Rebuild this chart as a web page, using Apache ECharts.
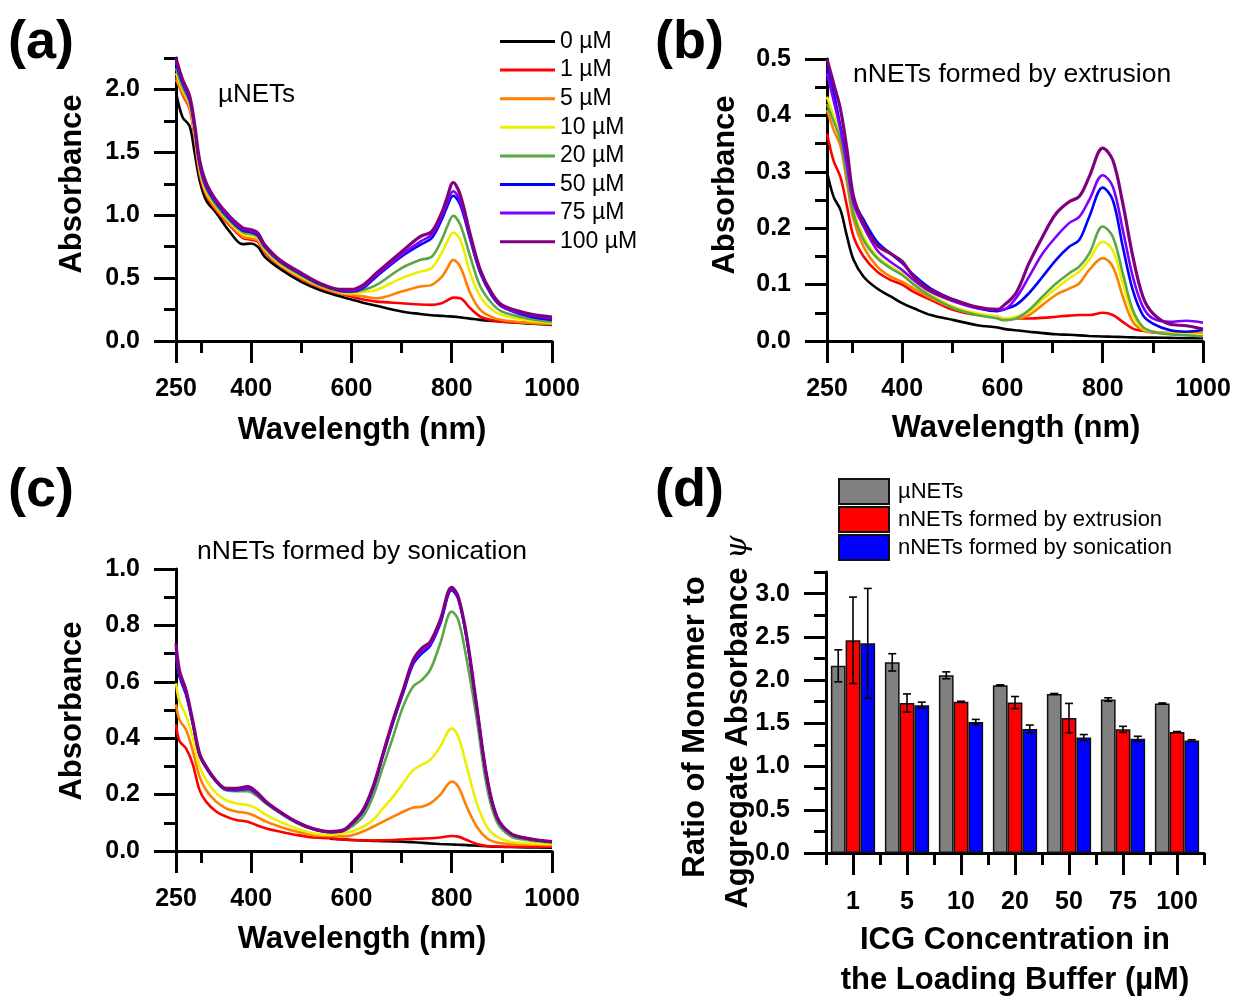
<!DOCTYPE html>
<html><head><meta charset="utf-8">
<script src="https://cdn.jsdelivr.net/npm/echarts@6/dist/echarts.min.js"></script>
<style>html,body{margin:0;padding:0;background:#fff}#c{width:1246px;height:998px}</style>
</head><body><div id="c"></div>
<script>
// ---------- data ----------
const concLabels = ['0 µM','1 µM','5 µM','10 µM','20 µM','50 µM','75 µM','100 µM'];
const lineColors = ['#000000','#ff0000','#ff8000','#eeee00','#5aa845','#0000ff','#8000ff','#800080'];

// x-axis tick labels (spectra)
const wlMajorTicks = [250,400,600,800,1000];
const wlMinorTicks = [300,500,700,900];

// Panel (a) µNETs
const wlA = [250,263,277,287,297,310,330,357,383,400,413,427,457,500,537,577,600,623,650,700,737,760,780,790,803,817,837,857,880,900,950,1000];
const a_0uM   = [1.98,1.78,1.71,1.50,1.28,1.12,1.02,0.87,0.77,0.775,0.75,0.67,0.575,0.47,0.405,0.355,0.33,0.305,0.28,0.235,0.215,0.205,0.20,0.197,0.194,0.188,0.178,0.168,0.16,0.154,0.14,0.127];
const a_1uM   = [2.10,1.96,1.85,1.62,1.33,1.16,1.04,0.92,0.82,0.805,0.79,0.705,0.60,0.495,0.425,0.375,0.353,0.33,0.313,0.30,0.29,0.287,0.30,0.32,0.345,0.34,0.26,0.194,0.165,0.154,0.145,0.14];
const a_5uM   = [2.08,1.97,1.86,1.64,1.35,1.17,1.05,0.93,0.83,0.815,0.80,0.715,0.605,0.50,0.43,0.38,0.366,0.355,0.34,0.393,0.433,0.446,0.51,0.57,0.645,0.59,0.38,0.247,0.19,0.167,0.145,0.133];
const a_10uM  = [2.13,2.00,1.88,1.66,1.37,1.19,1.07,0.945,0.85,0.835,0.82,0.73,0.615,0.51,0.44,0.39,0.38,0.39,0.406,0.50,0.55,0.58,0.70,0.78,0.863,0.805,0.54,0.353,0.25,0.207,0.165,0.146];
const a_20uM  = [2.17,2.02,1.90,1.68,1.39,1.21,1.08,0.955,0.865,0.85,0.83,0.74,0.625,0.52,0.445,0.395,0.39,0.405,0.446,0.58,0.645,0.67,0.805,0.90,0.996,0.924,0.67,0.433,0.30,0.234,0.18,0.154];
const a_50uM  = [2.21,2.05,1.92,1.70,1.41,1.23,1.10,0.97,0.88,0.865,0.84,0.75,0.635,0.53,0.45,0.40,0.393,0.42,0.513,0.672,0.765,0.818,0.964,1.06,1.155,1.083,0.805,0.54,0.36,0.274,0.20,0.167];
const a_75uM  = [2.23,2.06,1.93,1.71,1.42,1.24,1.11,0.98,0.89,0.875,0.85,0.755,0.64,0.535,0.455,0.405,0.40,0.43,0.525,0.685,0.79,0.845,0.99,1.09,1.19,1.11,0.82,0.55,0.37,0.274,0.21,0.18];
const a_100uM = [2.25,2.08,1.95,1.73,1.44,1.26,1.12,0.99,0.90,0.885,0.86,0.765,0.645,0.54,0.46,0.41,0.41,0.445,0.54,0.71,0.83,0.87,1.02,1.13,1.26,1.16,0.845,0.565,0.38,0.287,0.22,0.19];

// Panel (b) nNETs formed by extrusion
const wlB = [250,263,277,290,303,323,350,377,400,423,457,503,550,590,600,627,653,680,707,733,753,773,800,820,840,860,880,900,933,967,1000];
const b_0uM   = [0.30,0.256,0.232,0.185,0.144,0.114,0.093,0.079,0.067,0.058,0.046,0.037,0.028,0.024,0.022,0.019,0.0165,0.014,0.012,0.011,0.010,0.009,0.008,0.0075,0.007,0.0065,0.006,0.006,0.0055,0.005,0.005];
const b_1uM   = [0.368,0.32,0.29,0.238,0.185,0.15,0.123,0.108,0.10,0.087,0.073,0.055,0.046,0.043,0.04,0.04,0.04,0.041,0.043,0.045,0.046,0.046,0.05,0.046,0.034,0.022,0.018,0.015,0.013,0.012,0.011];
const b_5uM   = [0.41,0.375,0.345,0.28,0.215,0.167,0.132,0.114,0.105,0.093,0.076,0.058,0.046,0.043,0.04,0.04,0.046,0.064,0.082,0.093,0.102,0.126,0.147,0.132,0.079,0.034,0.0195,0.016,0.015,0.014,0.0136];
const b_10uM  = [0.433,0.40,0.368,0.297,0.232,0.185,0.15,0.132,0.12,0.102,0.082,0.061,0.049,0.043,0.04,0.043,0.052,0.073,0.093,0.111,0.123,0.144,0.176,0.161,0.102,0.046,0.022,0.0165,0.013,0.012,0.011];
const b_20uM  = [0.42,0.39,0.356,0.29,0.226,0.179,0.147,0.129,0.117,0.10,0.079,0.058,0.046,0.04,0.037,0.04,0.055,0.079,0.102,0.12,0.132,0.155,0.203,0.185,0.12,0.055,0.025,0.0165,0.012,0.010,0.008];
const b_50uM  = [0.486,0.44,0.38,0.32,0.25,0.215,0.176,0.155,0.138,0.117,0.093,0.073,0.058,0.053,0.055,0.064,0.085,0.114,0.144,0.167,0.179,0.22,0.272,0.25,0.167,0.09,0.046,0.031,0.0195,0.0165,0.0195];
const b_75uM  = [0.475,0.427,0.374,0.31,0.244,0.203,0.161,0.14,0.126,0.108,0.087,0.07,0.058,0.055,0.055,0.076,0.114,0.155,0.185,0.209,0.22,0.25,0.294,0.274,0.197,0.114,0.061,0.04,0.034,0.036,0.0325];
const b_100uM = [0.50,0.457,0.41,0.339,0.256,0.209,0.17,0.155,0.141,0.114,0.09,0.073,0.06,0.056,0.061,0.085,0.138,0.185,0.226,0.247,0.256,0.291,0.342,0.321,0.244,0.15,0.079,0.049,0.03,0.027,0.021];

// Panel (c) nNETs formed by sonication
const wlC = [250,257,270,283,297,310,330,350,370,393,410,430,457,490,523,557,583,600,623,643,663,683,703,723,740,757,777,800,813,830,850,870,890,917,950,1000];
const c_0uM   = [null,null,null,null,null,null,null,null,null,null,null,null,null,null,null,0.044,0.041,0.039,0.037,0.036,0.035,0.034,0.033,0.031,0.029,0.027,0.025,0.023,0.022,0.021,0.019,0.017,0.015,0.014,0.013,0.012];
const c_1uM   = [0.45,0.39,0.364,0.31,0.216,0.175,0.14,0.122,0.11,0.104,0.092,0.08,0.069,0.057,0.048,0.045,0.041,0.039,0.038,0.037,0.038,0.039,0.041,0.043,0.044,0.045,0.048,0.053,0.051,0.039,0.025,0.018,0.016,0.015,0.015,0.015];
const c_5uM   = [0.52,0.465,0.43,0.358,0.264,0.216,0.175,0.151,0.14,0.134,0.122,0.104,0.086,0.069,0.057,0.053,0.052,0.055,0.069,0.086,0.104,0.122,0.139,0.154,0.157,0.169,0.199,0.246,0.228,0.157,0.086,0.045,0.03,0.025,0.023,0.021];
const c_10uM  = [0.595,0.53,0.48,0.405,0.30,0.252,0.205,0.18,0.169,0.163,0.151,0.128,0.104,0.08,0.063,0.057,0.063,0.069,0.086,0.11,0.151,0.193,0.24,0.287,0.305,0.323,0.37,0.435,0.405,0.299,0.169,0.086,0.051,0.033,0.028,0.025];
const c_20uM  = [0.70,0.62,0.555,0.455,0.34,0.295,0.245,0.215,0.212,0.212,0.197,0.168,0.135,0.10,0.077,0.066,0.07,0.086,0.122,0.193,0.299,0.405,0.512,0.583,0.606,0.642,0.736,0.849,0.82,0.677,0.465,0.228,0.104,0.053,0.039,0.03];
const c_50uM  = [0.70,0.62,0.555,0.455,0.34,0.296,0.247,0.218,0.216,0.22,0.204,0.171,0.137,0.102,0.078,0.067,0.072,0.094,0.14,0.22,0.338,0.455,0.56,0.662,0.70,0.728,0.805,0.925,0.893,0.75,0.505,0.26,0.12,0.062,0.044,0.032];
const c_75uM  = [0.72,0.63,0.56,0.46,0.342,0.298,0.248,0.22,0.218,0.222,0.205,0.172,0.138,0.103,0.079,0.068,0.073,0.096,0.142,0.224,0.342,0.46,0.565,0.668,0.708,0.733,0.81,0.93,0.898,0.755,0.508,0.262,0.12,0.062,0.044,0.032];
const c_100uM = [0.736,0.64,0.57,0.465,0.346,0.30,0.25,0.222,0.222,0.228,0.21,0.175,0.14,0.104,0.08,0.069,0.074,0.098,0.145,0.228,0.346,0.465,0.571,0.677,0.719,0.742,0.819,0.935,0.902,0.76,0.512,0.264,0.122,0.063,0.045,0.033];

// Panel (d) ratio of monomer to aggregate absorbance
const icgCategories = ['1','5','10','20','50','75','100'];
const barNames = ['µNETs','nNETs formed by extrusion','nNETs formed by sonication'];
const barColors = ['#808080','#ff0000','#0000ff'];
const ratioMicro      = [2.165,2.205,2.055,1.94,1.84,1.775,1.73];
const ratioExtrusion  = [2.46,1.735,1.75,1.74,1.56,1.43,1.40];
const ratioSonication = [2.425,1.71,1.515,1.435,1.335,1.32,1.30];
const sdMicro      = [0.185,0.10,0.04,0.005,0.005,0.02,0.005];
const sdExtrusion  = [0.50,0.105,0.005,0.07,0.17,0.035,0.005];
const sdSonication = [0.635,0.035,0.03,0.045,0.035,0.03,0.01];

// ---------- chart ----------
const FONT = 'Liberation Sans, Arial, sans-serif';
const BLACK = '#000';
const gridDefs = [
  {left:176, top:58,  width:376, height:283},
  {left:827, top:59,  width:376, height:282},
  {left:176, top:569, width:376, height:282},
  {left:826, top:572, width:378, height:281}
];
const yMajors = [[0,0.5,1,1.5,2],[0,0.1,0.2,0.3,0.4,0.5],[0,0.2,0.4,0.6,0.8,1.0],[0,0.5,1,1.5,2,2.5,3]];
const yMinors = [[0.25,0.75,1.25,1.75,2.25],[0.05,0.15,0.25,0.35,0.45],[0.1,0.3,0.5,0.7,0.9],[0.25,0.75,1.25,1.75,2.25,2.75,3.25]];
const yMaxes = [2.25,0.5,1.0,3.25];

const labelStyle = {fontSize:25, fontWeight:'bold', fontFamily:FONT, color:BLACK};
const xAxes = [], yAxes = [];
for (let g = 0; g < 3; g++) {
  xAxes.push({type:'value', gridIndex:g, min:250, max:1000, position:'bottom',
    axisLine:{show:true, onZero:false, lineStyle:{color:BLACK, width:3}},
    axisTick:{show:true, customValues:wlMajorTicks, length:22, lineStyle:{color:BLACK, width:3}},
    axisLabel:Object.assign({customValues:wlMajorTicks, margin:36, hideOverlap:false, formatter:v => String(Math.round(v))}, labelStyle),
    splitLine:{show:false}});
  xAxes.push({type:'value', gridIndex:g, min:250, max:1000, position:'bottom',
    axisLine:{show:false, onZero:false},
    axisTick:{show:true, customValues:wlMinorTicks, length:12, lineStyle:{color:BLACK, width:3}},
    axisLabel:{show:false}, splitLine:{show:false}});
}
xAxes.push({type:'category', gridIndex:3, data:icgCategories, position:'bottom',
  axisLine:{show:true, onZero:false, lineStyle:{color:BLACK, width:3}},
  axisTick:{show:true, alignWithLabel:true, length:22, lineStyle:{color:BLACK, width:3}},
  axisLabel:Object.assign({margin:37, interval:0}, labelStyle), splitLine:{show:false}});
xAxes.push({type:'category', gridIndex:3, data:icgCategories, position:'bottom',
  axisLine:{show:false, onZero:false},
  axisTick:{show:true, alignWithLabel:false, length:12, lineStyle:{color:BLACK, width:3}},
  axisLabel:{show:false}, splitLine:{show:false}});
for (let g = 0; g < 4; g++) {
  yAxes.push({type:'value', gridIndex:g, min:0, max:yMaxes[g], position:'left',
    axisLine:{show:true, onZero:false, lineStyle:{color:BLACK, width:3}},
    axisTick:{show:true, customValues:yMajors[g], length:22, lineStyle:{color:BLACK, width:3}},
    axisLabel:Object.assign({customValues:yMajors[g], margin:36, formatter:v => Number(v).toFixed(1)}, labelStyle),
    splitLine:{show:false}});
  yAxes.push({type:'value', gridIndex:g, min:0, max:yMaxes[g], position:'left',
    axisLine:{show:false, onZero:false},
    axisTick:{show:true, customValues:yMinors[g], length:12, lineStyle:{color:BLACK, width:3}},
    axisLabel:{show:false}, splitLine:{show:false}});
}

const series = [];
function addSpectra(panel, wl, sets) {
  sets.forEach((vals, i) => {
    series.push({type:'line', name:concLabels[i], xAxisIndex:panel*2, yAxisIndex:panel*2,
      data: wl.map((w, j) => [w, vals[j]]), showSymbol:false, symbol:'none', smooth:0.35,
      connectNulls:false, lineStyle:{color:lineColors[i], width: i === 7 ? 3.2 : 2.6},
      itemStyle:{color:lineColors[i]}, z: 2 + i, silent:true});
  });
}
addSpectra(0, wlA, [a_0uM,a_1uM,a_5uM,a_10uM,a_20uM,a_50uM,a_75uM,a_100uM]);
addSpectra(1, wlB, [b_0uM,b_1uM,b_5uM,b_10uM,b_20uM,b_50uM,b_75uM,b_100uM]);
addSpectra(2, wlC, [c_0uM,c_1uM,c_5uM,c_10uM,c_20uM,c_50uM,c_75uM,c_100uM]);

const means = [ratioMicro, ratioExtrusion, ratioSonication];
const sds = [sdMicro, sdExtrusion, sdSonication];
const CAT_GAP = 0.18;
means.forEach((m, k) => {
  series.push({type:'bar', name:barNames[k], xAxisIndex:6, yAxisIndex:6, data:m,
    barGap:'0%', barCategoryGap:(CAT_GAP*100)+'%',
    itemStyle:{color:barColors[k], borderColor:'#111', borderWidth:1.5}, silent:true});
});
means.forEach((m, k) => {
  series.push({type:'custom', name:'err'+k, xAxisIndex:6, yAxisIndex:6, z:10, silent:true,
    data: m.map((v, i) => [i, v - sds[k][i], v + sds[k][i]]),
    encode:{x:0, y:[1,2]},
    renderItem:(params, api) => {
      const i = api.value(0);
      const lo = api.coord([i, api.value(1)]);
      const hi = api.coord([i, api.value(2)]);
      const band = api.size([1, 0])[0];
      const bw = band * (1 - CAT_GAP) / 3;
      const x = lo[0] + (k - 1) * bw;
      const cap = 4;
      const st = {stroke:'#000', lineWidth:1.6};
      return {type:'group', children:[
        {type:'line', shape:{x1:x, y1:lo[1], x2:x, y2:hi[1]}, style:st},
        {type:'line', shape:{x1:x-cap, y1:lo[1], x2:x+cap, y2:lo[1]}, style:st},
        {type:'line', shape:{x1:x-cap, y1:hi[1], x2:x+cap, y2:hi[1]}, style:st}
      ]};
    }});
});

function txt(text, x, y, size, bold, opts) {
  return Object.assign({type:'text', x:x, y:y, silent:true,
    style:{text:text, fontSize:size, fontWeight: bold ? 'bold' : 'normal', fontFamily:FONT, fill:BLACK,
      align:'left', verticalAlign:'middle', textAlign:'left', textVerticalAlign:'middle'}}, opts || {});
}
function ctxt(text, x, y, size, bold, rot) {
  const t = txt(text, x, y, size, bold, rot ? {rotation: Math.PI/2} : {});
  t.style.align = 'center'; t.style.textAlign = 'center';
  return t;
}
const graphics = [
  txt('(a)', 8, 43, 54, true), txt('(b)', 655, 43, 54, true),
  txt('(c)', 8, 491, 54, true), txt('(d)', 655, 491, 54, true),
  txt('µNETs', 218, 95, 26, false),
  txt('nNETs formed by extrusion', 853, 75, 26.5, false),
  txt('nNETs formed by sonication', 197, 552, 26.5, false),
  ctxt('Wavelength (nm)', 362, 430, 31, true),
  ctxt('Wavelength (nm)', 1016, 428, 31, true),
  ctxt('Wavelength (nm)', 362, 939, 31, true),
  ctxt('Absorbance', 72, 184, 31, true, true),
  ctxt('Absorbance', 725, 185, 31, true, true),
  ctxt('Absorbance', 72, 711, 31, true, true),
  ctxt('ICG Concentration in', 1015, 940, 31, true),
  ctxt('the Loading Buffer (µM)', 1015, 980, 31, true),
  ctxt('Ratio of Monomer to', 695, 727, 31, true, true)
];
const psiTitle = ctxt('Aggregate Absorbance {psi|ψ}', 738, 722, 31, true, true);
psiTitle.style.rich = {psi:{fontFamily:'DejaVu Serif', fontStyle:'italic', fontWeight:'normal', fontSize:30, fill:BLACK, color:BLACK}};
graphics.push(psiTitle);

const chart = echarts.init(document.getElementById('c'), null, {renderer:'canvas'});
chart.setOption({
  animation:false,
  backgroundColor:'#fff',
  grid: gridDefs,
  xAxis: xAxes,
  yAxis: yAxes,
  legend:[
    {data:concLabels, orient:'vertical', left:500, top:30, padding:0, icon:'rect', itemWidth:55, itemHeight:3, itemGap:5.6,
     selectedMode:false, textStyle:{fontSize:23, fontFamily:FONT, color:BLACK}},
    {data:barNames, orient:'vertical', left:838, top:478, padding:0, itemWidth:50, itemHeight:25, itemGap:1,
     icon:'rect', selectedMode:false, textStyle:{fontSize:22, fontFamily:FONT, color:BLACK, padding:[0,0,0,4]}}
  ],
  graphic: graphics,
  series: series
});
</script>
</body></html>
